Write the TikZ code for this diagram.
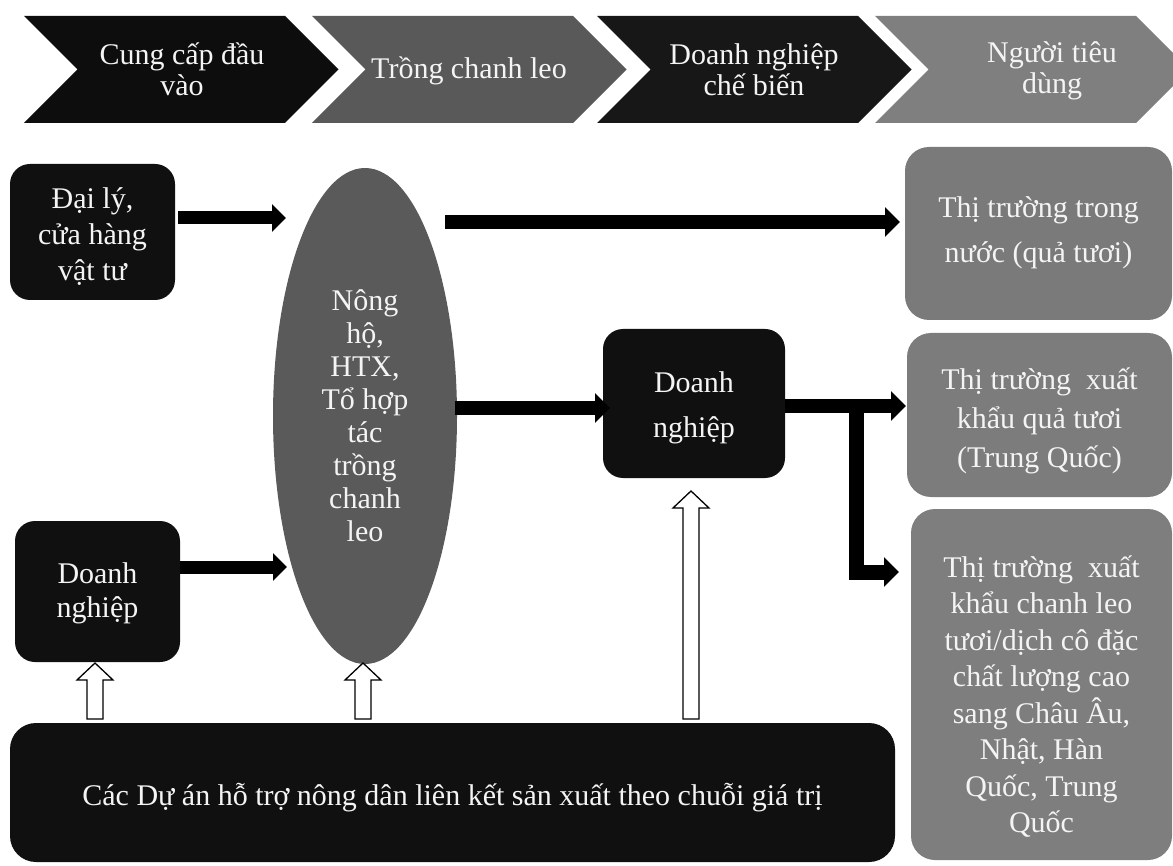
\documentclass[tikz,border=0pt]{standalone}
\usepackage{fontspec}
\setmainfont{Liberation Serif}
\usetikzlibrary{shapes.geometric,arrows.meta}
\definecolor{chevA}{HTML}{0D0D0D}
\definecolor{chevB}{HTML}{595959}
\definecolor{chevC}{HTML}{171717}
\definecolor{chevD}{HTML}{7F7F7F}
\definecolor{boxblack}{HTML}{101010}
\definecolor{ellgray}{HTML}{5A5A5A}
\definecolor{boxgray}{HTML}{7A7A7A}
\definecolor{boxgrayB}{HTML}{7C7C7C}
\definecolor{boxgrayC}{HTML}{7E7E7E}
\definecolor{txtwhite}{HTML}{F4F4F4}
\newcommand\chevshape[2]{\fill[#2] (#1,16) -- ({#1+261},16) -- ({#1+314.5},69.5) -- ({#1+261},123) -- (#1,123) -- ({#1+53.5},69.5) -- cycle;}
\newcommand\blockup[3]{\draw[hollow] ({#1-8},#3) -- ({#1-8},{#2+17}) -- ({#1-18},{#2+17}) -- (#1,#2) -- ({#1+18},{#2+17}) -- ({#1+8},{#2+17}) -- ({#1+8},#3) -- cycle;}
\tikzset{
  txt/.style={text=txtwhite, align=center, inner sep=0pt},
  darkbox/.style={rounded corners=20pt, fill=boxblack, inner sep=0pt},
  graybox/.style={rounded corners=24pt, inner sep=0pt},
  fat/.style={line width=14pt, line join=miter, -{Triangle[length=15pt,width=29pt]}},
  fatthin/.style={line width=13pt, -{Triangle[length=14pt,width=27pt]}},
  hollow/.style={draw=black, fill=white, line width=1.3pt, line join=miter},
}
\begin{document}
\begin{tikzpicture}[x=1pt,y=-1pt]
\useasboundingbox (0,0) rectangle (1173,866);
\clip (0,0) rectangle (1173,866);
% chevrons
\chevshape{24}{chevA}
\chevshape{312}{chevB}
\chevshape{597}{chevC}
\chevshape{875}{chevD}
\node[txt, font=\fontsize{30}{31}\selectfont] (c1) at (182,69.5) {Cung cấp đầu\\vào};
\node[txt, font=\fontsize{30}{31}\selectfont] (c2) at (469,71) {Trồng chanh leo};
\node[txt, font=\fontsize{30}{31}\selectfont] (c3) at (754,69.5) {Doanh nghiệp\\chế biến};
\node[txt, font=\fontsize{30}{31}\selectfont] (c4) at (1052,70.5) {Người tiêu\\dùng};
% left boxes
\node[darkbox, minimum width=165pt, minimum height=136pt] (daily) at (92.5,232) {};
\node[txt, font=\fontsize{30}{36}\selectfont] (dailyt) at ([yshift=-5pt]daily.center) {Đại lý,\\cửa hàng\\vật tư};
\node[darkbox, minimum width=165pt, minimum height=141pt] (dnl) at (97.5,591.5) {};
\node[txt, font=\fontsize{30}{34}\selectfont] (dnlt) at ([yshift=-2pt]dnl.center) {Doanh\\nghiệp};
% ellipse
\node[txt, ellipse, fill=ellgray, minimum width=184pt, minimum height=496pt, font=\fontsize{30}{33}\selectfont] (ell) at (365,416) {Nông\\hộ,\\HTX,\\Tổ hợp\\tác\\trồng\\chanh\\leo};
% middle box
\node[darkbox, minimum width=182pt, minimum height=149pt] (dnm) at (694,403.5) {};
\node[txt, font=\fontsize{30}{45}\selectfont] (dnmt) at ([yshift=-4pt]dnm.center) {Doanh\\nghiệp};
% right boxes
\node[graybox, fill=boxgray, minimum width=267pt, minimum height=173pt] (r1) at (1038.5,233.5) {};
\node[txt, font=\fontsize{30}{45}\selectfont] (r1t) at ([yshift=1pt]r1.center) {Thị trường trong\\nước (quả tươi)};
\node[graybox, fill=boxgrayB, minimum width=265pt, minimum height=164pt] (r2) at (1039.5,415) {};
\node[txt, font=\fontsize{30}{39}\selectfont] (r2t) at ([yshift=-6pt]r2.center) {Thị trường~ xuất\\khẩu quả tươi\\(Trung Quốc)};
\node[graybox, fill=boxgrayC, minimum width=261pt, minimum height=351pt] (r3) at (1041.5,684.5) {};
\node[txt, font=\fontsize{30}{36.5}\selectfont] (r3t) at ([yshift=-12pt]r3.center) {Thị trường~ xuất\\khẩu chanh leo\\tươi/dịch cô đặc\\chất lượng cao\\sang Châu Âu,\\Nhật, Hàn\\Quốc, Trung\\Quốc};
% bottom box
\node[darkbox, rounded corners=26pt, minimum width=885pt, minimum height=139pt] (proj) at (452.5,792.5) {};
\node[txt, font=\fontsize{30}{34}\selectfont] (projt) at ([yshift=-5pt]proj.center) {Các Dự án hỗ trợ nông dân liên kết sản xuất theo chuỗi giá trị};
% coordinates for arrow ends
\coordinate (a1) at (286,218);
\coordinate (a2) at (287,567);
\coordinate (a3s) at (445,222);
\coordinate (a3) at (900,222);
\coordinate (a4s) at (455,408);
\coordinate (a4) at (610,408);
\coordinate (a5s) at (785,406);
\coordinate (a5) at (906,406);
\coordinate (br) at (856,401);
\coordinate (a6) at (899,572);
% black arrows
\draw[fatthin] ([xshift=3pt]daily.east |- a1) -- (a1);
\draw[fatthin] (dnl.east |- a2) -- (a2);
\draw[fat] (a3s) -- (a3);
\draw[fat] (a4s) -- (a4);
\draw[fat] (a5s) -- (a5);
\draw[fat, line width=15pt] (br) |- (a6);
% hollow arrows
\blockup{95}{663}{719}
\blockup{363}{663}{719}
\blockup{691}{491}{719}
\end{tikzpicture}
\end{document}
